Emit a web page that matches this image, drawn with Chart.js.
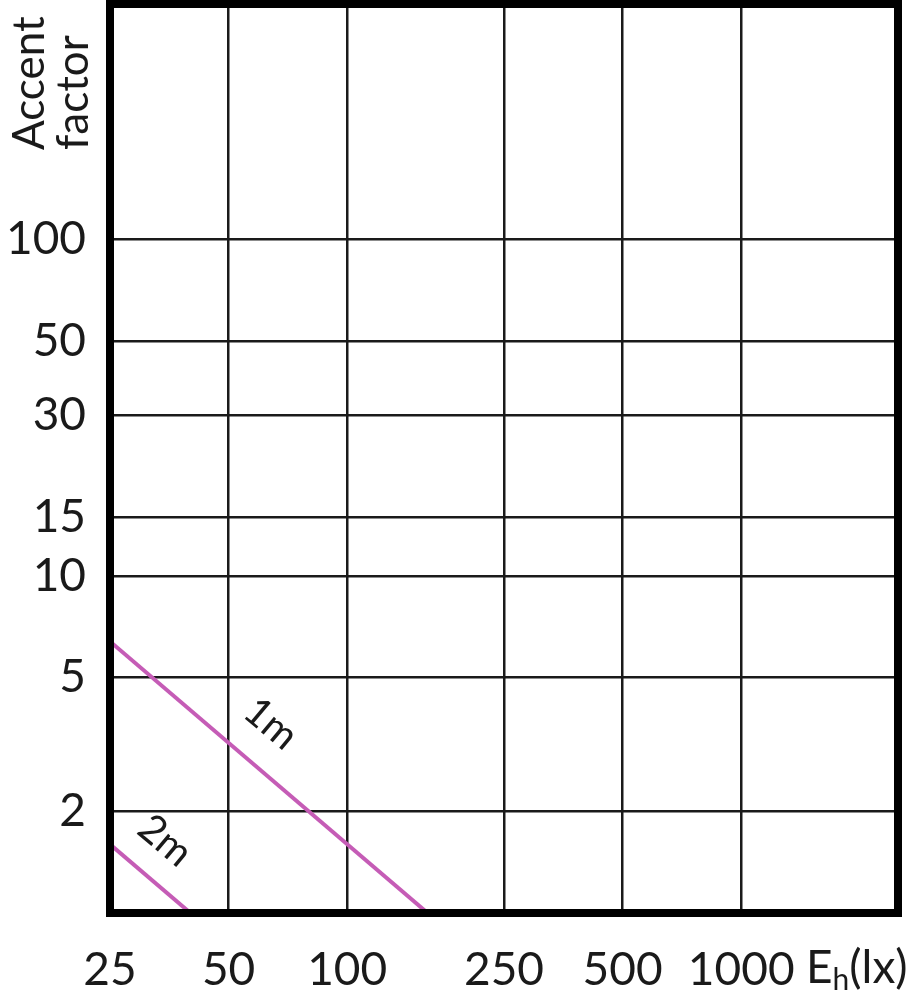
<!DOCTYPE html>
<html>
<head>
<meta charset="utf-8">
<script src="https://cdn.jsdelivr.net/npm/chart.js@4.4.1/dist/chart.umd.min.js"></script>
<style>
  html, body { margin: 0; padding: 0; background: #ffffff; }
  #wrap { width: 921px; height: 1000px; }
</style>
</head>
<body>
<div id="wrap"><canvas id="chart" width="921" height="1000"></canvas></div>
<script>
// Accent factor vs horizontal illuminance (log-log)

const xTicks = [25, 50, 100, 250, 500, 1000];
const yTicks = [2, 5, 10, 15, 30, 50, 100];

// curves for mounting distance
const lux1m = [25, 160];
const factor1m = [6.4, 1.0];
const lux2m = [25, 40];
const factor2m = [1.6, 1.0];

const curveNames = ['1m', '2m'];
const labelLux = [64, 34.5];
const labelFactor = [3.65, 1.64];

const FONT = "Lato, 'Open Sans', sans-serif";
const INK = '#1a1a1a';
const CURVE = '#c55cb6';

function toPoints(xs, ys) {
    return xs.map((x, i) => ({ x: x, y: ys[i] }));
}

// frame + texts the axes can't do themselves
const extras = {
    id: 'extras',
    afterDatasetsDraw(chart) {
        const ctx = chart.ctx;
        const a = chart.chartArea;
        const xs = chart.scales.x, ys = chart.scales.y;
        ctx.save();

        // curve names, rotated along the lines
        ctx.fillStyle = INK;
        ctx.font = '40px ' + FONT;
        ctx.textAlign = 'center';
        ctx.textBaseline = 'middle';
        curveNames.forEach((name, i) => {
            ctx.save();
            ctx.translate(xs.getPixelForValue(labelLux[i]), ys.getPixelForValue(labelFactor[i]));
            ctx.rotate(40 * Math.PI / 180);
            ctx.fillText(name, 0, 0);
            ctx.restore();
        });

        // heavy frame
        ctx.strokeStyle = '#000';
        ctx.lineWidth = 8;
        ctx.strokeRect(a.left, a.top, a.right - a.left, a.bottom - a.top);

        // y title
        ctx.font = '44px ' + FONT;
        ctx.textAlign = 'left';
        ctx.textBaseline = 'middle';
        ctx.save();
        ctx.translate(30, 150);
        ctx.rotate(-Math.PI / 2);
        ctx.fillText('Accent', 0, 0);
        ctx.fillText('factor', 0, 44);
        ctx.restore();

        // x unit label, subscript h
        ctx.font = '46px ' + FONT;
        ctx.textBaseline = 'middle';
        let x0 = 806, y0 = 968;
        ctx.fillText('E', x0, y0);
        x0 += ctx.measureText('E').width;
        ctx.font = '30px ' + FONT;
        ctx.fillText('h', x0, y0 + 12);
        x0 += ctx.measureText('h').width;
        ctx.font = '46px ' + FONT;
        ctx.fillText('(lx)', x0, y0);

        ctx.restore();
    }
};

new Chart(document.getElementById('chart'), {
    type: 'line',
    data: {
        datasets: [
            {
                label: '1m',
                data: toPoints(lux1m, factor1m),
                borderColor: CURVE,
                borderWidth: 4,
                pointRadius: 0,
                tension: 0
            },
            {
                label: '2m',
                data: toPoints(lux2m, factor2m),
                borderColor: CURVE,
                borderWidth: 4,
                pointRadius: 0,
                tension: 0
            }
        ]
    },
    options: {
        responsive: false,
        animation: false,
        layout: { padding: { top: 4, right: 23, left: 0, bottom: 0 } },
        plugins: {
            legend: { display: false },
            tooltip: { enabled: false }
        },
        scales: {
            x: {
                type: 'logarithmic',
                min: 25,
                max: 2500,
                afterBuildTicks: (s) => { s.ticks = xTicks.map(v => ({ value: v })); },
                afterFit: (s) => { s.height = 87; s.paddingLeft = 0; s.paddingRight = 0; },
                ticks: {
                    callback: (v) => String(v),
                    autoSkip: false,
                    maxRotation: 0,
                    padding: 30,
                    color: INK,
                    font: { family: FONT, size: 46 }
                },
                grid: { color: INK, lineWidth: 2.5, drawTicks: false },
                border: { display: false }
            },
            y: {
                type: 'logarithmic',
                min: 1,
                max: 500,
                afterBuildTicks: (s) => { s.ticks = yTicks.map(v => ({ value: v })); },
                afterFit: (s) => { s.width = 110; s.paddingTop = 0; s.paddingBottom = 0; },
                ticks: {
                    callback: (v) => String(v),
                    autoSkip: false,
                    padding: 24,
                    color: INK,
                    font: { family: FONT, size: 46 }
                },
                grid: { color: INK, lineWidth: 2.5, drawTicks: false },
                border: { display: false }
            }
        }
    },
    plugins: [extras]
});
</script>
</body>
</html>
